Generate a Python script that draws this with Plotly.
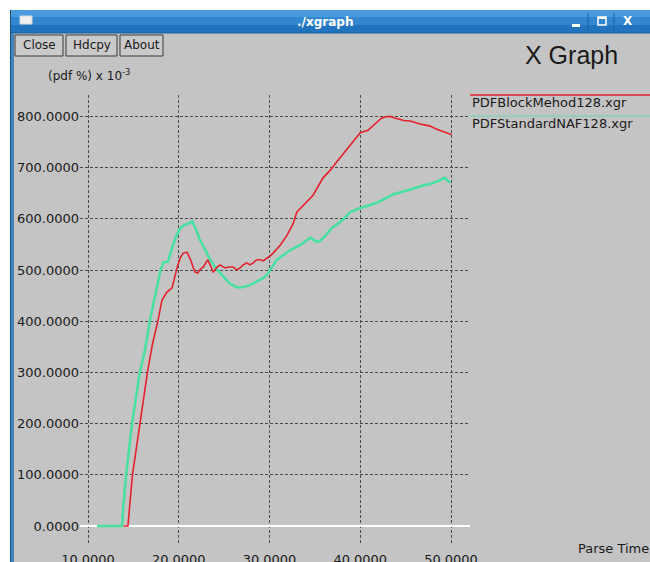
import plotly.graph_objects as go

# ---------------- data ----------------
naf_x = [11.0, 13.75, 13.9, 14.2, 14.85, 15.7, 16.3, 16.8, 17.4, 18.0, 18.3, 18.8, 19.3, 19.7,
         20.1, 20.6, 21.0, 21.5, 22.0, 22.3, 22.9, 23.4, 24.0, 24.9, 25.6, 26.4, 27.1, 27.9,
         28.6, 29.3, 29.7, 30.1, 30.8, 31.5, 32.3, 33.4, 34.5, 35.2, 35.6, 36.3, 37.0, 37.4,
         38.2, 38.9, 39.6, 40.0, 41.1, 41.9, 42.8, 43.6, 44.5, 45.4, 46.3, 47.1, 47.7, 48.5,
         49.3, 49.9]
naf_y = [0, 0, 40, 100, 200, 300, 345, 400, 450, 500, 515, 516, 545, 565,
         580, 588, 590, 595, 575, 560, 540, 522, 505, 487, 474, 466, 467, 471,
         478, 484, 490, 500, 520, 529, 539, 549, 563, 555, 557, 570, 584, 588,
         600, 613, 618, 621, 627, 632, 640, 648, 652, 657, 662, 666, 668, 673,
         680, 670]

blk_x = [13.9, 14.4, 14.9, 15.7, 16.55, 17.1, 17.7, 18.15, 18.7, 19.26, 19.6, 19.9, 20.2,
         20.5, 20.9, 21.3, 21.6, 21.8, 22.1, 22.3, 22.7, 23.2, 23.5, 23.8, 24.2, 24.55,
         25.1, 25.5, 26.0, 26.4, 26.75, 27.1, 27.5, 27.85, 28.2, 28.6, 28.95, 29.3, 29.7,
         30.06, 30.4, 30.8, 31.2, 31.9, 32.3, 32.6, 33.0, 33.4, 34.1, 34.8, 35.9, 36.7,
         37.4, 38.2, 38.9, 39.5, 40.0, 40.85, 41.4, 41.85, 42.3, 42.7, 43.3, 43.8, 44.2,
         44.8, 45.5, 46.1, 46.6, 47.2, 47.7, 48.3, 48.8, 49.5, 50.1]
blk_y = [0, 0, 100, 200, 300, 355, 400, 441, 457, 465, 490, 510, 525,
         533, 535, 520, 505, 496, 494, 500, 506, 520, 508, 496, 505, 510,
         504, 506, 506, 500, 504, 510, 514, 510, 514, 520, 520, 518, 523,
         527, 533, 540, 549, 567, 582, 590, 613, 620, 633, 646, 680, 695,
         711, 728, 744, 757, 768, 773, 782, 789, 796, 799, 800, 797, 795,
         792, 791, 787, 785, 783, 781, 776, 773, 769, 764]

x_ticks = [10, 20, 30, 40, 50]
y_ticks = [0, 100, 200, 300, 400, 500, 600, 700, 800]
series_names = ["PDFBlockMehod128.xgr", "PDFStandardNAF128.xgr"]

# ---------------- layout geometry ----------------
W, H = 650, 562
L, R, T, B = 80, 470, 95, 545


def px(x):
    return (x - L) / (R - L)


def py(y):
    return (B - y) / (B - T)


BG = "#c4c4c4"
RED = "#e3222c"
GREEN = "#45e0a2"
FONT = "DejaVu Sans"

fig = go.Figure()
fig.add_trace(go.Scatter(x=naf_x, y=naf_y, mode="lines", name=series_names[1],
                         line=dict(color=GREEN, width=2.5), showlegend=False,
                         hoverinfo="skip"))
fig.add_trace(go.Scatter(x=blk_x, y=blk_y, mode="lines", name=series_names[0],
                         line=dict(color=RED, width=1.6), showlegend=False,
                         hoverinfo="skip"))

shapes = []


def rect(x0, y0, x1, y1, fill, line=None, lw=0):
    shapes.append(dict(type="rect", xref="paper", yref="paper",
                       x0=px(x0), x1=px(x1), y0=py(y0), y1=py(y1),
                       fillcolor=fill, line=dict(color=line or fill, width=lw),
                       layer="above"))


def hline(x0, x1, y, color, w=1):
    shapes.append(dict(type="line", xref="paper", yref="paper",
                       x0=px(x0), x1=px(x1), y0=py(y), y1=py(y),
                       line=dict(color=color, width=w), layer="above"))


def vline(x, y0, y1, color, w=1):
    shapes.append(dict(type="line", xref="paper", yref="paper",
                       x0=px(x), x1=px(x), y0=py(y0), y1=py(y1),
                       line=dict(color=color, width=w), layer="above"))


# white desktop strips
rect(0, 0, 650, 10, "white")
rect(0, 0, 10, 562, "white")
# title bar (approximate gradient)
rect(10, 10, 650, 17, "#4a9ade")
rect(10, 17, 650, 25, "#3386d0")
rect(10, 25, 650, 33, "#2273bd")
hline(10, 650, 33, "#1a5f9e", 1)
# left window border
rect(10, 33, 14, 562, "#3f86bf")
vline(10.5, 10, 562, "#1c4f7a", 1)
# title bar icon
rect(20, 16, 32, 24, "#f2f2f2", "#d0d8e0", 1)
# window control buttons
vline(588, 13, 31, "#1d62a3", 1)
vline(614, 13, 31, "#1d62a3", 1)
rect(572, 24, 580, 27, "white")
rect(598, 17, 606, 25, "rgba(0,0,0,0)", "white", 1.5)
hline(598, 606, 18, "white", 2)
# buttons
for x0, x1 in [(15, 63), (66, 117), (120, 163)]:
    rect(x0, 35, x1, 56, "#cacaca", "#3a3a3a", 1)
# legend lines
hline(470, 650, 95, RED, 1.5)
hline(470, 650, 116, "rgba(69,224,162,0.45)", 1.5)

annotations = []


def text(x, y, s, size=13, color="#1a1a1a", xanchor="left", yanchor="middle",
         family=FONT, bold=False):
    if bold:
        s = "<b>" + s + "</b>"
    annotations.append(dict(xref="paper", yref="paper", x=px(x), y=py(y), text=s,
                            showarrow=False, xanchor=xanchor, yanchor=yanchor,
                            font=dict(size=size, color=color, family=family)))


text(325, 21.5, "./xgraph", size=12, color="white", xanchor="center", bold=True)
text(628, 21, "X", size=12, color="white", xanchor="center", bold=True)
text(39, 45.5, "Close", size=12, xanchor="center")
text(91.5, 45.5, "Hdcpy", size=12, xanchor="center")
text(141.5, 45.5, "About", size=12, xanchor="center")
text(571, 55, "X Graph", size=25, xanchor="center", family="Liberation Sans")
text(46, 75, "(pdf %) x 10<sup>-3</sup>", size=12)
text(470, 102, series_names[0], size=13)
text(470, 124, series_names[1], size=13)
text(576, 548, "Parse Time", size=13)

fig.update_layout(
    width=W, height=H, autosize=False,
    margin=dict(l=L, r=W - R, t=T, b=H - B, pad=0),
    paper_bgcolor=BG, plot_bgcolor=BG,
    shapes=shapes, annotations=annotations,
    font=dict(family=FONT, size=13, color="#1a1a1a"),
    hovermode=False,
    xaxis=dict(range=[10 - 8 / 9.075, 50 + 19 / 9.075], tickvals=x_ticks,
               tickformat=".4f", showgrid=True, gridcolor="#4a4a4a", gridwidth=1,
               griddash="3px,2px", zeroline=False, showline=False, ticks="",
               automargin=False, ticklabelstandoff=5,
               tickfont=dict(family=FONT, size=13, color="#1a1a1a")),
    yaxis=dict(range=[-37.1, 841.8], tickvals=y_ticks, tickformat=".4f",
               showgrid=True, gridcolor="#4a4a4a", gridwidth=1, griddash="3px,2px",
               zeroline=True, zerolinecolor="white", zerolinewidth=2,
               showline=False, ticks="", automargin=False,
               tickfont=dict(family=FONT, size=13, color="#1a1a1a")),
)

fig.write_html(
    "out.html",
    config={"displayModeBar": False, "staticPlot": True},
    post_script="document.body.style.margin='0';document.body.style.overflow='hidden';",
)
